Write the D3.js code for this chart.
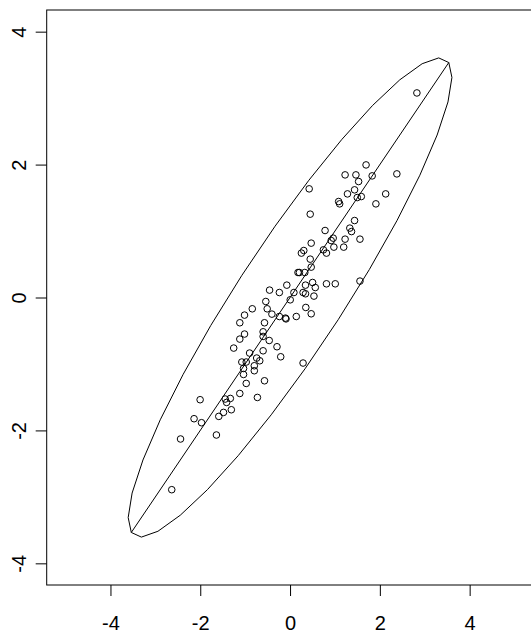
<!DOCTYPE html>
<html>
<head>
<meta charset="utf-8">
<script src="https://cdn.jsdelivr.net/npm/d3@7"></script>
<style>
  html, body { margin: 0; padding: 0; background: #fff; }
  svg { display: block; }
  text { font-family: "Liberation Sans", Arial, sans-serif; }
</style>
</head>
<body>
<svg id="chart" width="531" height="632"></svg>
<script>
// ---- data ----
const xValues = [
  2.825,1.693,1.226,1.467,2.379,1.829,1.527,0.426,1.437,1.279,
  2.130,1.497,1.587,1.082,1.105,1.912,0.449,1.437,1.331,1.369,
  0.780,1.557,1.226,0.961,0.916,0.471,0.976,1.195,0.743,0.811,
  0.306,0.253,0.449,0.471,0.177,0.208,0.328,1.557,0.502,0.811,
  1.007,-0.072,0.344,0.562,-0.456,-0.238,0.086,0.290,0.344,0.532,
  0.004,
  -0.540,0.351,-0.841,-0.509,-1.014,-0.404,0.471,-0.238,-0.102,-0.090,0.139,
  -1.119,-0.569,-1.014,-0.600,-0.600,-1.119,-0.464,-1.255,-0.291,-0.600,
  -0.901,-0.208,-0.743,-0.675,-1.074,-0.976,0.290,-0.796,-1.036,-0.796,
  -1.036,-0.569,-0.976,-1.119,-0.727,-2.003,-1.444,-1.330,-1.413,-1.308,
  -1.482,-1.587,-2.138,-1.972,-1.640,-2.439,-2.635
];
const yValues = [
  3.078,1.995,1.845,1.845,1.860,1.830,1.745,1.635,1.620,1.559,
  1.559,1.504,1.519,1.444,1.409,1.409,1.254,1.158,1.044,0.992,
  1.008,0.878,0.878,0.893,0.857,0.818,0.758,0.758,0.717,0.668,
  0.707,0.668,0.577,0.457,0.376,0.376,0.376,0.247,0.226,0.206,
  0.206,0.186,0.186,0.150,0.111,0.075,0.075,0.075,0.056,0.021,
  -0.035,
  -0.060,-0.150,-0.170,-0.170,-0.265,-0.250,-0.245,-0.286,-0.310,-0.322,-0.286,
  -0.380,-0.380,-0.550,-0.516,-0.586,-0.626,-0.647,-0.761,-0.741,-0.802,
  -0.836,-0.892,-0.911,-0.952,-0.971,-0.971,-0.986,-1.027,-1.068,-1.102,
  -1.158,-1.253,-1.293,-1.444,-1.504,-1.538,-1.528,-1.519,-1.579,-1.689,
  -1.729,-1.789,-1.824,-1.884,-2.069,-2.129,-2.892
];
const xTicks = [-4, -2, 0, 2, 4];
const yTicks = [-4, -2, 0, 2, 4];
// ellipse: centre, semi-axes, rotation (degrees), number of polygon segments
const ellipseCenter = [0, 0];
const ellipseAxes = [5.0, 1.0];
const ellipseAngle = 45;
const ellipseSegments = 30;

// ---- layout ----
const svg = d3.select("#chart");
const plotLeft = 46.7, plotRight = 533.4, plotTop = 10, plotBottom = 585;
const x = d3.scaleLinear().domain([-5.42, 5.42]).range([plotLeft, plotRight]);
const y = d3.scaleLinear().domain([-4.326, 4.326]).range([plotBottom, plotTop]);

// ellipse polygon
const th = ellipseAngle * Math.PI / 180;
const ellPts = d3.range(ellipseSegments + 1).map(i => {
  const t = 2 * Math.PI * i / ellipseSegments;
  const u = ellipseAxes[0] * Math.cos(t), v = ellipseAxes[1] * Math.sin(t);
  return [ellipseCenter[0] + u * Math.cos(th) - v * Math.sin(th),
          ellipseCenter[1] + u * Math.sin(th) + v * Math.cos(th)];
});
const line = d3.line().x(d => x(d[0])).y(d => y(d[1]));
svg.append("path").attr("d", line(ellPts))
  .attr("fill", "none").attr("stroke", "#000").attr("stroke-width", 1);
// major axis
const tipA = ellPts[0], tipB = ellPts[ellipseSegments / 2];
svg.append("path").attr("d", line([tipB, tipA]))
  .attr("fill", "none").attr("stroke", "#000").attr("stroke-width", 1);

// points
svg.append("g").selectAll("circle").data(d3.zip(xValues, yValues)).join("circle")
  .attr("cx", d => x(d[0])).attr("cy", d => y(d[1])).attr("r", 3.3)
  .attr("fill", "none").attr("stroke", "#000").attr("stroke-width", 1);

// box
svg.append("rect").attr("x", plotLeft).attr("y", plotTop)
  .attr("width", plotRight - plotLeft).attr("height", plotBottom - plotTop)
  .attr("fill", "none").attr("stroke", "#000").attr("stroke-width", 1);

// bottom axis
const gx = svg.append("g").attr("transform", `translate(0,${plotBottom})`)
  .call(d3.axisBottom(x).tickValues(xTicks).tickSize(11).tickFormat(d => String(d)));
gx.select(".domain").remove();
gx.selectAll("line").attr("stroke", "#000");
gx.selectAll("text").attr("y", 44.5).attr("dy", null)
  .attr("font-size", 20).attr("fill", "#000")
  .attr("font-family", "'Liberation Sans', Arial, sans-serif");

// left axis
const gy = svg.append("g").attr("transform", `translate(${plotLeft},0)`)
  .call(d3.axisLeft(y).tickValues(yTicks).tickSize(11).tickFormat(d => String(d)));
gy.select(".domain").remove();
gy.selectAll("line").attr("stroke", "#000");
gy.selectAll("text")
  .attr("x", null).attr("dy", null)
  .attr("transform", `translate(${25.5 - plotLeft},0) rotate(-90)`)
  .attr("text-anchor", "middle")
  .attr("font-size", 20).attr("fill", "#000")
  .attr("font-family", "'Liberation Sans', Arial, sans-serif");
</script>
</body>
</html>
